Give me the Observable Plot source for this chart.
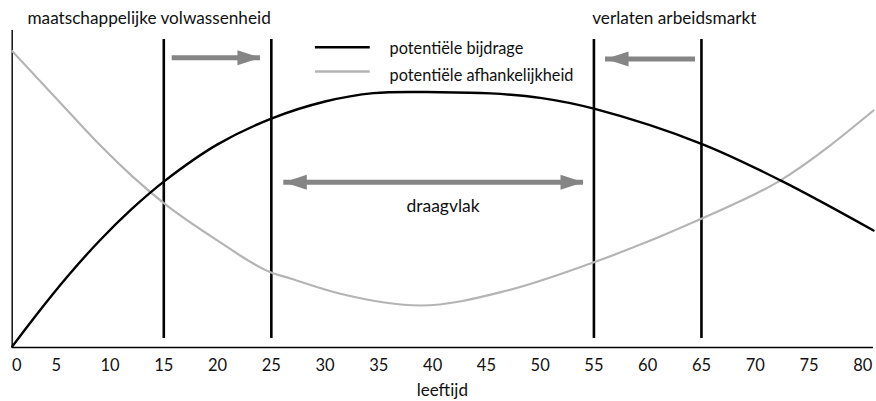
<!DOCTYPE html>
<html>
<head>
<meta charset="utf-8">
<script src="https://cdn.jsdelivr.net/npm/d3@7"></script>
<script src="https://cdn.jsdelivr.net/npm/@observablehq/plot@0.6"></script>
<style>
  html, body { margin: 0; padding: 0; background: #fff; }
  svg { display: block; }
</style>
</head>
<body>
<div id="chart"></div>
<script>
// ---- data ----
const bijdrageAge   = [0.9, 3, 6, 9, 12, 15, 20, 25, 30, 34.5, 40.7, 45.4, 50, 55, 65, 72.35, 81.0];
const bijdrageValue = [0.3, 10.2, 23.5, 35.5, 46.1, 55.3, 67.7, 76.3, 82.0, 84.8, 85.1, 84.7, 83.2, 79.6, 67.9, 55.7, 39.0];

const afhAge   = [0.9, 6.04, 9.11, 12.18, 15.0, 19.97, 24.92, 26.78, 31.43, 38.87, 46.96, 55.0, 64.98, 72.35, 81.0];
const afhValue = [98.8, 79.0, 67.3, 56.7, 48.1, 35.7, 25.1, 23.0, 17.9, 14.0, 19.0, 28.4, 42.9, 55.7, 79.0];

const markerAges = [15, 25, 55, 65];
const xTicks = [0, 5, 10, 15, 20, 25, 30, 35, 40, 45, 50, 55, 60, 65, 70, 75, 80];

const seriesNames = ["potentiële bijdrage", "potentiële afhankelijkheid"];
const topLabels = ["maatschappelijke volwassenheid", "verlaten arbeidsmarkt"];
const spanLabel = "draagvlak";
const xLabel = "leeftijd";

// arrows: [from, to] in age units, with height in value units
const arrows = [
  {x1: 15.78, x2: 23.99, y: 96.6, heads: ["end"]},
  {x1: 64.45, x2: 56.08, y: 96.2, heads: ["end"]},
  {x1: 26.16, x2: 54.03, y: 55.1, heads: ["start", "end"]}
];

// ---- styling ----
const FONT = "Lato, 'Open Sans', sans-serif";
const BLACK = "#000";
const TEXT = "#111";
const GRAY_CURVE = "#b4b4b4";
const GRAY_ARROW = "#858585";

const bijdrage = bijdrageAge.map((a, i) => ({age: a, v: bijdrageValue[i]}));
const afh = afhAge.map((a, i) => ({age: a, v: afhValue[i]}));

// arrow shafts and heads
const shafts = arrows.map(d => ({x1: d.x1, x2: d.x2, y: d.y}));
const heads = [];
arrows.forEach(d => {
  d.heads.forEach(h => {
    const tip = h === "end" ? d.x2 : d.x1;
    const other = h === "end" ? d.x1 : d.x2;
    heads.push({x: tip, y: d.y, rotate: tip > other ? 0 : 180});
  });
});
const headShape = {
  draw(ctx) {
    ctx.moveTo(0, 0);
    ctx.lineTo(-23, -7.5);
    ctx.lineTo(-23, 7.5);
    ctx.closePath();
  }
};

const chart = Plot.plot({
  width: 876,
  height: 401,
  marginLeft: 2,
  marginRight: 3,
  marginTop: 47,
  marginBottom: 54,
  style: {fontFamily: FONT, background: "#fff", overflow: "visible"},
  x: {domain: [0, 81], axis: null},
  y: {domain: [0, 100], axis: null},
  marks: [
    // frame (left and bottom axis lines)
    Plot.ruleX([0.9], {y1: 0, y2: 105.7, stroke: BLACK, strokeWidth: 1.4}),
    Plot.ruleY([0], {x1: 0.9, x2: 81, stroke: BLACK, strokeWidth: 1.4}),
    // vertical markers
    Plot.ruleX(markerAges, {y1: 3, y2: 102.7, stroke: BLACK, strokeWidth: 2.6}),
    // curves
    Plot.line(afh, {x: "age", y: "v", stroke: GRAY_CURVE, strokeWidth: 2.2, curve: "monotone-x"}),
    Plot.line(bijdrage, {x: "age", y: "v", stroke: BLACK, strokeWidth: 2.4, curve: "catmull-rom"}),
    // arrows
    Plot.ruleY(shafts, {x1: "x1", x2: "x2", y: "y", stroke: GRAY_ARROW, strokeWidth: 5}),
    Plot.dot(heads, {x: "x", y: "y", rotate: "rotate", symbol: headShape, fill: GRAY_ARROW, stroke: "none"}),
    // legend
    Plot.ruleY([100.1], {x1: 29.1, x2: 34.2, stroke: BLACK, strokeWidth: 2.4}),
    Plot.ruleY([92], {x1: 29.1, x2: 34.2, stroke: GRAY_CURVE, strokeWidth: 2.4}),
    Plot.text([seriesNames[0]], {x: 36.0, y: 98, text: d => d, textAnchor: "start", lineAnchor: "bottom", fontSize: 16.3, fill: TEXT}),
    Plot.text([seriesNames[1]], {x: 36.0, y: 88.9, text: d => d, textAnchor: "start", lineAnchor: "bottom", fontSize: 16.3, fill: TEXT}),
    // top labels
    Plot.text([topLabels[0]], {x: 2.32, y: 108, text: d => d, textAnchor: "start", lineAnchor: "bottom", fontSize: 17.2, fill: TEXT}),
    Plot.text([topLabels[1]], {x: 54.84, y: 108, text: d => d, textAnchor: "start", lineAnchor: "bottom", fontSize: 17.2, fill: TEXT}),
    // span label
    Plot.text([spanLabel], {x: 40.97, y: 47, text: d => d, textAnchor: "middle", lineAnchor: "middle", fontSize: 17.5, fill: TEXT}),
    // x tick labels
    Plot.text(xTicks.filter(t => t === 0), {x: d => d, y: () => -7.67, text: d => String(d), textAnchor: "start", dx: 9.5, lineAnchor: "bottom", fontSize: 16.5, fill: TEXT}),
    Plot.text(xTicks.filter(t => t !== 0), {x: d => d, y: () => -7.67, text: d => String(d), textAnchor: "middle", lineAnchor: "bottom", fontSize: 16.5, fill: TEXT}),
    // x axis title
    Plot.text([xLabel], {x: 40.9, y: -16, text: d => d, textAnchor: "middle", lineAnchor: "bottom", fontSize: 17, fill: TEXT})
  ]
});

document.getElementById("chart").appendChild(chart);
</script>
</body>
</html>
